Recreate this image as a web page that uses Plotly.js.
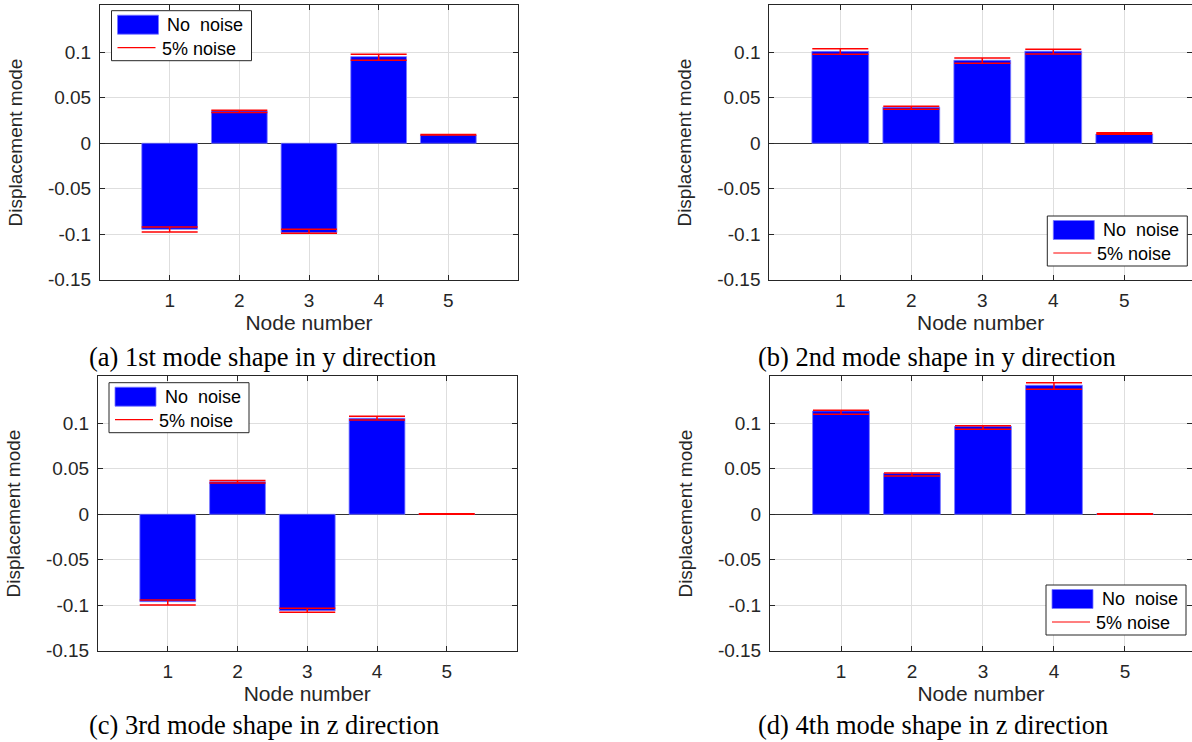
<!DOCTYPE html>
<html>
<head>
<meta charset="utf-8">
<script src="https://cdn.plot.ly/plotly-3.0.1.min.js"></script>
<style>
html,body{margin:0;padding:0;background:#fff;}
#chart{width:1192px;height:742px;}
</style>
</head>
<body>
<div id="chart"></div>
<script>
// ---- data ----
const nodes = [1, 2, 3, 4, 5];
const yTickVals = [-0.15, -0.1, -0.05, 0, 0.05, 0.1];
const yTickText = ['-0.15', '-0.1', '-0.05', '0', '0.05', '0.1'];
const xTickText = ['1', '2', '3', '4', '5'];

// (a) 1st mode shape in y direction
const modeA_noNoise = [-0.0945, 0.0355, -0.0982, 0.0952, 0.0091];
const modeA_noise   = [-0.0947, 0.0350, -0.0967, 0.0945, 0.0093];
const modeA_err     = [0.0027, 0.0013, 0.0022, 0.0033, 0.0003];
// (b) 2nd mode shape in y direction
const modeB_noNoise = [0.1010, 0.0396, 0.0912, 0.1012, 0.0102];
const modeB_noise   = [0.1009, 0.0390, 0.0908, 0.1007, 0.0108];
const modeB_err     = [0.0031, 0.0016, 0.0029, 0.0026, 0.0009];
// (c) 3rd mode shape in z direction
const modeC_noNoise = [-0.0960, 0.0358, -0.1059, 0.1055, 0.0003];
const modeC_noise   = [-0.0970, 0.0357, -0.1055, 0.1057, 0.0004];
const modeC_err     = [0.0028, 0.0013, 0.0022, 0.0020, 0.0003];
// (d) 4th mode shape in z direction
const modeD_noNoise = [0.1135, 0.0450, 0.0967, 0.1418, 0.0005];
const modeD_noise   = [0.1121, 0.0437, 0.0954, 0.1410, 0.0004];
const modeD_err     = [0.0022, 0.0017, 0.0020, 0.0036, 0.0003];

const captions = ['(a) 1st mode shape in y direction', '(b) 2nd mode shape in y direction',
                  '(c) 3rd mode shape in z direction', '(d) 4th mode shape in z direction'];
const seriesNames = ['No\u00a0 noise', '5% noise'];

// ---- build ----
const W = 1192, H = 742;
const px = v => v / W;
const py = v => 1 - v / H;

const panels = [
  {nn: modeA_noNoise, nz: modeA_noise, er: modeA_err, xd: [100, 518], xr: [0, 6], yd: [5.4, 279.8], leg: [111.5, 10.7], cap: [87, 357]},
  {nn: modeB_noNoise, nz: modeB_noise, er: modeB_err, xd: [769.3, 1192], xr: [0, 5.954], yd: [5.4, 279.8], leg: [1047.3, 216], cap: [756, 357]},
  {nn: modeC_noNoise, nz: modeC_noise, er: modeC_err, xd: [98, 516.5], xr: [0, 6], yd: [376.4, 650.8], leg: [109, 382.7], cap: [87, 725]},
  {nn: modeD_noNoise, nz: modeD_noise, er: modeD_err, xd: [770, 1192], xr: [0, 5.944], yd: [376.4, 650.8], leg: [1046, 585], cap: [756, 725]}
];

const traces = [];
const layout = {
  width: W, height: H,
  margin: {l: 0, r: 0, t: 0, b: 0},
  paper_bgcolor: '#fff', plot_bgcolor: '#fff',
  showlegend: false,
  font: {family: 'Liberation Sans, Arial, sans-serif', color: '#262626'},
  shapes: [], annotations: []
};

panels.forEach((p, i) => {
  const k = i === 0 ? '' : String(i + 1);
  traces.push({
    type: 'bar', x: nodes, y: p.nn, width: 0.8, name: seriesNames[0],
    xaxis: 'x' + k, yaxis: 'y' + k,
    marker: {color: 'rgb(0,0,255)', line: {color: 'rgba(120,120,255,0.8)', width: 1}},
    hoverinfo: 'x+y'
  });
  traces.push({
    type: 'scatter', mode: 'markers', x: nodes, y: p.nz, name: seriesNames[1],
    xaxis: 'x' + k, yaxis: 'y' + k,
    marker: {size: 1, color: 'rgba(255,0,0,0)'},
    error_y: {type: 'data', array: p.er, visible: true, color: 'rgb(255,0,0)', thickness: 1.5, width: 28}
  });
  const common = {
    showline: true, linecolor: '#262626', linewidth: 1, mirror: 'ticks',
    ticks: 'inside', ticklen: 5, tickcolor: '#262626', tickwidth: 1,
    showgrid: true, gridcolor: '#dedede', gridwidth: 1,
    tickfont: {size: 19, color: '#262626', family: 'Liberation Sans, Arial, sans-serif'},
    fixedrange: true
  };
  layout['xaxis' + k] = Object.assign({}, common, {
    domain: [px(p.xd[0]), px(p.xd[1])], anchor: 'y' + k, range: p.xr,
    tickmode: 'array', tickvals: nodes, ticktext: xTickText, zeroline: false,
    ticklabelstandoff: 3,
    title: {text: 'Node number', font: {size: 21, color: '#262626'}, standoff: 2}
  });
  layout['yaxis' + k] = Object.assign({}, common, {
    domain: [py(p.yd[1]), py(p.yd[0])], anchor: 'x' + k, range: [-0.15, 0.1515],
    tickmode: 'array', tickvals: yTickVals, ticktext: yTickText,
    zeroline: true, zerolinecolor: '#333333', zerolinewidth: 1,
    ticklabelstandoff: 4,
    title: {text: 'Displacement mode', font: {size: 19, color: '#262626'}, standoff: 20}
  });

  // legend box (drawn in page coordinates)
  const lx = p.leg[0], ly = p.leg[1];
  layout.shapes.push({type: 'rect', xref: 'paper', yref: 'paper', layer: 'above',
    x0: px(lx), x1: px(lx + 140), y0: py(ly + 50), y1: py(ly),
    line: {color: '#262626', width: 1}, fillcolor: '#ffffff'});
  layout.shapes.push({type: 'rect', xref: 'paper', yref: 'paper', layer: 'above',
    x0: px(lx + 6), x1: px(lx + 47), y0: py(ly + 23.5), y1: py(ly + 4.5),
    line: {color: 'rgba(120,120,255,0.8)', width: 1}, fillcolor: 'rgb(0,0,255)'});
  layout.shapes.push({type: 'line', xref: 'paper', yref: 'paper', layer: 'above',
    x0: px(lx + 6), x1: px(lx + 44), y0: py(ly + 37), y1: py(ly + 37),
    line: {color: 'rgb(255,0,0)', width: 1.2}});
  layout.annotations.push({xref: 'paper', yref: 'paper', x: px(lx + 54), y: py(ly + 14),
    xanchor: 'left', yanchor: 'middle', showarrow: false, text: seriesNames[0],
    font: {size: 18, color: '#000', family: 'Liberation Sans, Arial, sans-serif'}});
  layout.annotations.push({xref: 'paper', yref: 'paper', x: px(lx + 48), y: py(ly + 38),
    xanchor: 'left', yanchor: 'middle', showarrow: false, text: seriesNames[1],
    font: {size: 18, color: '#000', family: 'Liberation Sans, Arial, sans-serif'}});
  // caption
  layout.annotations.push({xref: 'paper', yref: 'paper', x: px(p.cap[0]), y: py(p.cap[1]),
    xanchor: 'left', yanchor: 'middle', showarrow: false, text: captions[i],
    font: {size: 26.5, color: '#000', family: 'Liberation Serif, Times New Roman, serif'}});
});

Plotly.newPlot('chart', traces, layout, {displayModeBar: false, staticPlot: true});
</script>
</body>
</html>
